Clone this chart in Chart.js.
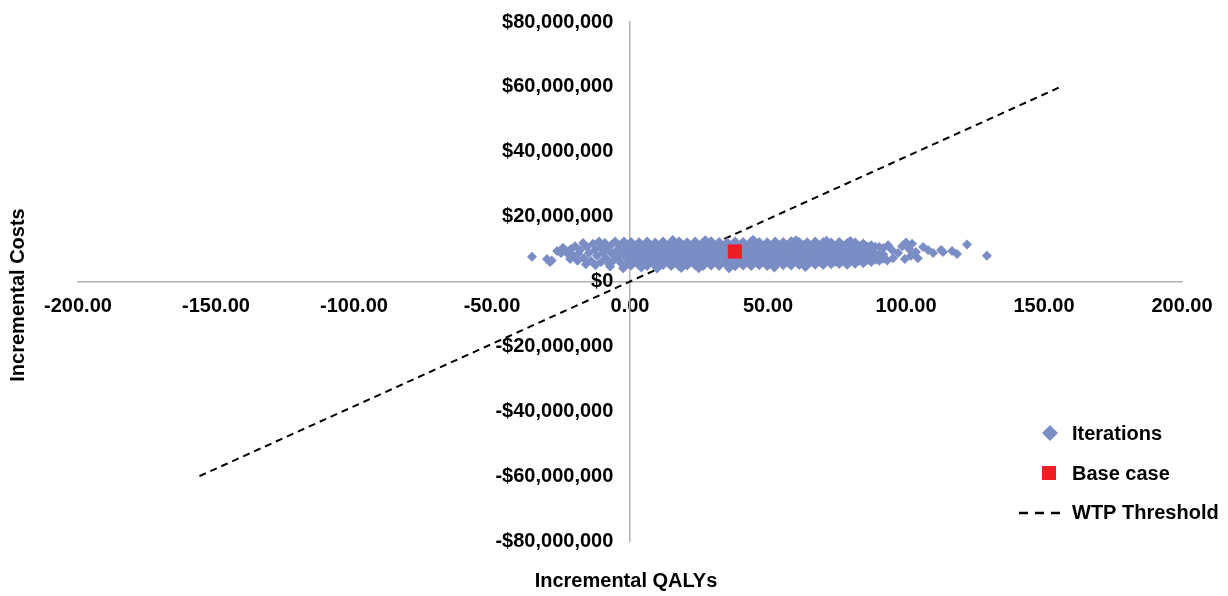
<!DOCTYPE html>
<html>
<head>
<meta charset="utf-8">
<script src="https://cdn.jsdelivr.net/npm/chart.js@4.4.1/dist/chart.umd.min.js"></script>
<style>
  html, body { margin: 0; padding: 0; background: #fff; }
  #wrap { width: 1228px; height: 596px; }
</style>
</head>
<body>
<div id="wrap"><canvas id="ceplane" width="1228" height="596"></canvas></div>
<script>
// tick values
const qalyTicks = [-200, -150, -100, -50, 0, 50, 100, 150, 200];
const costTicks = [-80e6, -60e6, -40e6, -20e6, 0, 20e6, 40e6, 60e6, 80e6];

// PSA iterations: [incremental QALYs, incremental cost in $M]
const iterations = [
  [-35.5,7.6],[-30.1,6.9],[-29.0,6.0],[-28.4,6.5],
  [-26.4,9.4],[-25.0,8.8],[-24.3,10.4],[-23.6,9.7],[-22.5,8.5],[-21.4,10.0],[-21.7,6.9],[-20.6,8.0],
  [-19.9,10.9],[-19.0,6.4],[-18.8,8.5],[-18.1,9.7],[-17.0,11.9],[-16.7,7.2],[-16.0,5.3],[-15.6,10.6],
  [-14.9,8.8],[-14.1,6.3],[-13.4,11.6],[-12.7,9.7],[-12.5,5.0],[-12.0,7.9],[-11.2,12.3],[-10.9,10.6],
  [-10.5,6.0],[-9.8,8.8],[-9.1,11.9],[-8.7,7.2],[-8.0,10.0],[-7.6,5.4],[-7.2,4.6],[-6.9,11.2],[-6.5,8.5],
  [-5.8,6.6],[-5.4,12.3],[-4.7,9.7],[-4.0,7.9],[-3.6,11.2],[-3.3,5.7],[-2.5,4.1],[-2.5,9.1],[-2.2,12.3],
  [-1.4,7.2],[-1.1,10.6],[-0.7,5.4],[-0.4,8.8],
  [0.4,12.2],[0.4,9.8],[0.4,7.2],[0.4,4.9],[1.9,11.1],[1.9,8.5],[1.9,6.0],
  [3.3,12.1],[3.3,9.6],[3.3,7.4],[3.3,5.0],[4.8,10.9],[4.8,8.4],[4.8,6.1],
  [6.2,12.3],[6.2,9.7],[6.2,7.3],[6.2,4.8],[7.7,11.0],[7.7,8.6],[7.7,6.2],
  [9.1,12.0],[9.1,9.8],[9.1,7.2],[9.1,4.9],[10.6,11.2],[10.6,8.5],[10.6,6.0],
  [12.0,12.3],[12.0,9.6],[12.0,7.3],[12.0,5.1],[13.5,10.9],[13.5,8.6],[13.5,6.1],
  [14.9,12.1],[14.9,9.7],[14.9,7.4],[14.9,4.8],[16.4,11.0],[16.4,8.4],[16.4,6.2],
  [17.8,12.3],[17.8,9.8],[17.8,7.2],[17.8,4.7],[19.3,11.1],[19.3,8.5],[19.3,6.0],
  [20.7,12.1],[20.7,9.6],[20.7,7.3],[20.7,4.9],[22.2,10.8],[22.2,8.6],[22.2,6.1],
  [23.6,12.3],[23.6,9.7],[23.6,7.2],[23.6,5.0],[25.1,11.0],[25.1,8.5],[25.1,6.0],
  [26.5,12.1],[26.5,9.8],[26.5,7.4],[26.5,4.8],[28.0,11.2],[28.0,8.4],[28.0,6.2],
  [29.4,12.4],[29.4,9.6],[29.4,7.3],[29.4,4.9],[30.9,10.9],[30.9,8.6],[30.9,6.1],
  [32.3,12.2],[32.3,9.7],[32.3,7.2],[32.3,4.8],[33.8,11.0],[33.8,8.5],[33.8,6.0],
  [35.2,12.1],[35.2,9.8],[35.2,7.3],[35.2,5.0],[36.7,11.1],[36.7,8.4],[36.7,6.1],
  [38.1,12.3],[38.1,9.6],[38.1,7.4],[38.1,4.7],[39.6,10.9],[39.6,8.6],[39.6,6.2],
  [41.0,12.2],[41.0,9.7],[41.0,7.2],[41.0,4.9],[42.5,11.0],[42.5,8.5],[42.5,6.0],
  [43.9,12.3],[43.9,9.8],[43.9,7.3],[43.9,4.8],[45.4,11.2],[45.4,8.4],[45.4,6.1],
  [46.8,12.2],[46.8,9.6],[46.8,7.2],[46.8,5.0],[48.3,10.8],[48.3,8.6],[48.3,6.0],
  [49.7,12.1],[49.7,9.7],[49.7,7.4],[49.7,4.8],[51.2,11.0],[51.2,8.5],[51.2,6.2],
  [52.6,12.3],[52.6,9.8],[52.6,7.3],[52.6,4.9],[54.1,11.1],[54.1,8.4],[54.1,6.1],
  [55.5,12.2],[55.5,9.6],[55.5,7.2],[55.5,5.0],[57.0,10.9],[57.0,8.6],[57.0,6.0],
  [58.4,12.4],[58.4,9.7],[58.4,7.3],[58.4,4.9],[59.9,11.0],[59.9,8.5],[59.9,6.2],
  [61.3,12.2],[61.3,9.8],[61.3,7.4],[61.3,5.1],[62.8,11.2],[62.8,8.4],[62.8,6.1],
  [64.2,12.1],[64.2,9.6],[64.2,7.2],[64.2,5.0],[65.7,10.9],[65.7,8.6],[65.7,6.2],
  [67.1,12.3],[67.1,9.7],[67.1,7.3],[67.1,5.2],[68.6,11.0],[68.6,8.5],[68.6,6.1],
  [70.0,12.2],[70.0,9.8],[70.0,7.2],[70.0,5.1],[71.5,11.1],[71.5,8.4],[71.5,6.3],
  [72.9,12.0],[72.9,9.6],[72.9,7.4],[72.9,5.3],[74.4,10.9],[74.4,8.6],[74.4,6.2],
  [75.8,12.2],[75.8,9.7],[75.8,7.3],[75.8,5.4],[77.3,11.0],[77.3,8.5],[77.3,6.4],
  [78.7,11.9],[78.7,9.8],[78.7,7.2],[78.7,5.2],[80.2,11.1],[80.2,8.4],[80.2,6.3],
  [81.6,12.0],[81.6,9.6],[81.6,7.3],[81.6,5.5],[83.1,10.9],[83.1,8.6],[83.1,6.5],
  [84.5,11.7],[84.5,9.7],[84.5,7.4],[84.5,5.6],[86.0,10.8],[86.0,8.4],[86.0,6.6],
  [87.4,11.2],[87.4,9.6],[87.4,7.2],[87.4,6.0],[88.9,10.7],[88.9,8.5],[88.9,6.7],
  [90.3,10.6],[90.3,8.4],[90.3,6.4],[91.8,10.3],[91.8,8.3],[91.8,7.0],
  [4.1,4.3],[9.8,4.0],[15.5,12.8],[18.6,4.2],[24.9,4.1],[27.3,12.7],[35.9,4.1],[44.6,12.9],
  [52.3,4.3],[60.2,12.7],[63.5,4.5],[71.2,12.6],[79.8,12.5],
  [93.2,6.5],[93.5,11.2],[94.9,9.7],[95.3,7.2],[97.1,8.8],[98.6,10.9],[99.6,6.9],[100.0,12.0],
  [101.1,10.0],[101.8,7.9],[102.2,11.6],[103.6,9.1],[104.3,7.2],[106.2,10.6],[108.0,9.7],
  [109.8,8.8],[112.7,9.7],[113.4,9.1],[116.7,9.4],[118.5,8.5],[122.1,11.4],[129.3,7.9]
];

const baseCase = [[38.0, 9.25]];

// willingness-to-pay threshold line through the origin
const wtpQaly = [-156, 156];
const wtpCost = [-60e6, 60e6];

const iterColor = '#7b8dc5';
const baseColor = '#ee1c25';
const fontFamily = '"Liberation Sans", Arial, Helvetica, sans-serif';

Chart.defaults.font.family = fontFamily;
Chart.defaults.font.size = 20;
Chart.defaults.font.weight = 'bold';
Chart.defaults.color = '#000';

function fmtCost(v) {
  const s = '$' + Math.abs(v).toLocaleString('en-US');
  // trailing spaces keep the label clear of the axis line
  return (v < 0 ? '-' + s : s) + '   ';
}

const extras = {
  id: 'extras',
  afterDraw(chart) {
    const ctx = chart.ctx;
    ctx.save();
    ctx.font = 'bold 20px ' + fontFamily;
    ctx.fillStyle = '#000';
    ctx.textBaseline = 'middle';

    // axis titles
    ctx.textAlign = 'center';
    ctx.fillText('Incremental QALYs', 626, 581);
    ctx.save();
    ctx.translate(18, 295);
    ctx.rotate(-Math.PI / 2);
    ctx.fillText('Incremental Costs', 0, 0);
    ctx.restore();

    // legend
    ctx.textAlign = 'left';
    ctx.fillStyle = iterColor;
    ctx.beginPath();
    ctx.moveTo(1050, 425); ctx.lineTo(1058, 433); ctx.lineTo(1050, 441); ctx.lineTo(1042, 433);
    ctx.closePath();
    ctx.fill();
    ctx.fillStyle = baseColor;
    ctx.fillRect(1042, 466, 14, 14);
    ctx.strokeStyle = '#000';
    ctx.lineWidth = 2.5;
    ctx.setLineDash([9, 7]);
    ctx.beginPath();
    ctx.moveTo(1019, 513); ctx.lineTo(1064, 513);
    ctx.stroke();
    ctx.setLineDash([]);
    ctx.fillStyle = '#000';
    ctx.fillText('Iterations', 1072, 434);
    ctx.fillText('Base case', 1072, 474);
    ctx.fillText('WTP Threshold', 1072, 513);
    ctx.restore();
  }
};

new Chart(document.getElementById('ceplane'), {
  type: 'scatter',
  data: {
    datasets: [
      {
        label: 'Iterations',
        data: iterations.map(p => ({x: p[0], y: p[1] * 1e6})),
        pointStyle: 'rectRot',
        pointRadius: 5,
        backgroundColor: iterColor,
        borderWidth: 0,
        order: 1
      },
      {
        label: 'Base case',
        data: baseCase.map(p => ({x: p[0], y: p[1] * 1e6})),
        pointStyle: 'rect',
        pointRadius: 10,
        backgroundColor: baseColor,
        borderWidth: 0,
        order: 0
      },
      {
        label: 'WTP Threshold',
        data: wtpQaly.map((q, i) => ({x: q, y: wtpCost[i]})),
        showLine: true,
        borderColor: '#000',
        borderWidth: 2,
        borderDash: [7, 5],
        pointRadius: 0,
        fill: false,
        order: 2
      }
    ]
  },
  options: {
    responsive: false,
    animation: false,
    events: [],
    layout: {padding: {left: 78, right: 46, top: 22, bottom: 55}},
    plugins: {legend: {display: false}, tooltip: {enabled: false}},
    scales: {
      x: {
        type: 'linear',
        position: {y: 0},
        min: -200, max: 200,
        afterBuildTicks: s => { s.ticks = qalyTicks.map(v => ({value: v})); },
        afterFit: s => { s.height = 0; },
        grid: {display: true, drawOnChartArea: false, drawTicks: false, color: 'rgba(0,0,0,0)'},
        border: {display: true, color: '#b3b3b3', width: 1.5},
        ticks: {padding: 13, maxRotation: 0, autoSkip: false, callback: v => v.toFixed(2)}
      },
      y: {
        type: 'linear',
        position: {x: 0},
        min: -80e6, max: 80e6,
        afterBuildTicks: s => { s.ticks = costTicks.map(v => ({value: v})); },
        afterFit: s => { s.width = 0; },
        grid: {display: true, drawOnChartArea: false, drawTicks: false, color: 'rgba(0,0,0,0)'},
        border: {display: true, color: '#b3b3b3', width: 1.5},
        ticks: {padding: 0, autoSkip: false, callback: v => fmtCost(v)}
      }
    }
  },
  plugins: [extras]
});
</script>
</body>
</html>
